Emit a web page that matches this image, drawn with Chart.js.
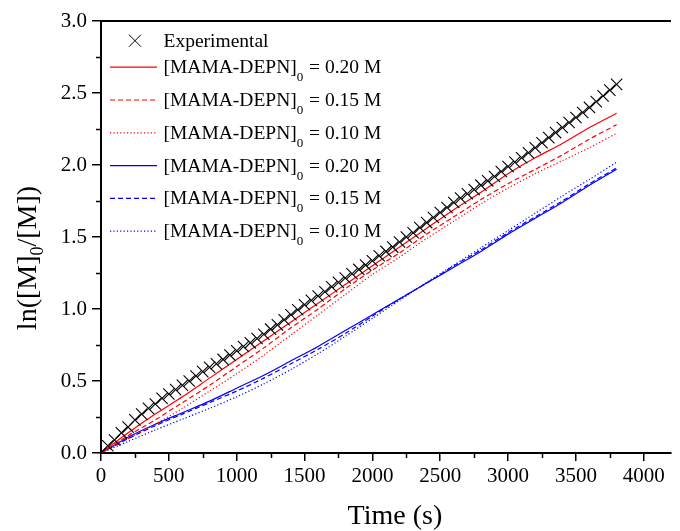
<!DOCTYPE html>
<html>
<head>
<meta charset="utf-8">
<script src="https://cdn.jsdelivr.net/npm/chart.js@4/dist/chart.umd.min.js"></script>
<style>
  html, body { margin: 0; padding: 0; background: #fff; }
  canvas { display: block; }
</style>
</head>
<body>
<canvas id="chart" width="680" height="531"></canvas>
<script>
// Measured conversion: ln([M]0/[M]) against time
const expTime = [0, 50, 100, 150, 200, 250, 300, 350, 400, 450,
  500, 550, 600, 650, 700, 750, 800, 850, 900, 950,
  1000, 1050, 1100, 1150, 1200, 1250, 1300, 1350, 1400, 1450,
  1500, 1550, 1600, 1650, 1700, 1750, 1800, 1850, 1900, 1950,
  2000, 2050, 2100, 2150, 2200, 2250, 2300, 2350, 2400, 2450,
  2500, 2550, 2600, 2650, 2700, 2750, 2800, 2850, 2900, 2950,
  3000, 3050, 3100, 3150, 3200, 3250, 3300, 3350, 3400, 3450,
  3500, 3550, 3600, 3650, 3700, 3750, 3800];
const expValue = [0, 0.05, 0.09, 0.14, 0.18, 0.23, 0.27, 0.31, 0.34, 0.38,
  0.41, 0.44, 0.47, 0.50, 0.535, 0.565, 0.595, 0.62, 0.65, 0.68,
  0.71, 0.74, 0.765, 0.795, 0.825, 0.86, 0.89, 0.925, 0.96, 0.995,
  1.03, 1.06, 1.09, 1.12, 1.155, 1.185, 1.215, 1.245, 1.275, 1.305,
  1.335, 1.37, 1.40, 1.43, 1.465, 1.50, 1.53, 1.565, 1.60, 1.635,
  1.67, 1.705, 1.74, 1.77, 1.80, 1.83, 1.86, 1.89, 1.92, 1.955,
  1.99, 2.02, 2.05, 2.085, 2.12, 2.155, 2.19, 2.225, 2.26, 2.295,
  2.33, 2.365, 2.40, 2.44, 2.48, 2.52, 2.56];

// Simulated curves
const simTime = [0, 200, 400, 600, 800, 1000, 1200, 1400, 1600, 1800,
  2000, 2200, 2400, 2600, 2800, 3000, 3200, 3400, 3600, 3800];
const redA = [0, 0.14, 0.27, 0.39, 0.52, 0.65, 0.78, 0.91, 1.04, 1.17,
  1.30, 1.43, 1.56, 1.69, 1.81, 1.94, 2.05, 2.15, 2.26, 2.36];
const redB = [0, 0.12, 0.23, 0.35, 0.47, 0.60, 0.73, 0.87, 1.00, 1.14,
  1.27, 1.39, 1.52, 1.64, 1.76, 1.87, 1.97, 2.07, 2.18, 2.28];
const redC = [0, 0.10, 0.20, 0.31, 0.43, 0.55, 0.68, 0.82, 0.96, 1.10,
  1.24, 1.36, 1.49, 1.61, 1.73, 1.84, 1.94, 2.03, 2.12, 2.22];
const blueA = [0, 0.11, 0.20, 0.28, 0.36, 0.45, 0.54, 0.64, 0.74, 0.85,
  0.96, 1.07, 1.18, 1.29, 1.40, 1.52, 1.63, 1.74, 1.86, 1.97];
const blueB = [0, 0.10, 0.19, 0.27, 0.35, 0.43, 0.52, 0.62, 0.72, 0.83,
  0.95, 1.07, 1.18, 1.30, 1.41, 1.53, 1.64, 1.75, 1.87, 1.98];
const blueC = [0, 0.08, 0.16, 0.235, 0.31, 0.39, 0.48, 0.58, 0.69, 0.81,
  0.935, 1.06, 1.185, 1.305, 1.425, 1.545, 1.665, 1.785, 1.90, 2.02];

const concLabels = ['0.20', '0.15', '0.10', '0.20', '0.15', '0.10'];

const xTicks = [0, 500, 1000, 1500, 2000, 2500, 3000, 3500, 4000];
const xMinor = [250, 750, 1250, 1750, 2250, 2750, 3250, 3750];
const yTicks = [0, 0.5, 1.0, 1.5, 2.0, 2.5, 3.0];
const yMinor = [0.25, 0.75, 1.25, 1.75, 2.25, 2.75];

const FONT = "'Liberation Serif', 'Times New Roman', serif";
const RED = '#ff0000';
const BLUE = '#0000ff';
const DASH = [5, 3];
const DOT = [1.2, 2.2];

const pairs = (xs, ys) => xs.map((x, i) => ({ x: x, y: ys[i] }));

function simSet(values, color, dash, conc) {
  return {
    label: '[MAMA-DEPN]0 = ' + conc + ' M',
    conc: conc,
    data: pairs(simTime, values),
    showLine: true,
    borderColor: color,
    backgroundColor: color,
    borderWidth: 1.2,
    borderDash: dash,
    pointRadius: 0,
    tension: 0.25,
    fill: false
  };
}

const datasets = [
  {
    label: 'Experimental',
    data: pairs(expTime, expValue),
    showLine: false,
    pointStyle: 'crossRot',
    pointRadius: 8,
    borderColor: '#000',
    backgroundColor: '#000',
    pointBorderWidth: 1.1,
    borderWidth: 1.1
  },
  simSet(redA, RED, [], concLabels[0]),
  simSet(redB, RED, DASH, concLabels[1]),
  simSet(redC, RED, DOT, concLabels[2]),
  simSet(blueA, BLUE, [], concLabels[3]),
  simSet(blueB, BLUE, DASH, concLabels[4]),
  simSet(blueC, BLUE, DOT, concLabels[5])
];

// Frame, minor ticks, axis titles and legend with subscripts
const decorations = {
  id: 'decorations',
  afterDraw(chart) {
    const ctx = chart.ctx;
    const a = chart.chartArea;
    const xs = chart.scales.x;
    const ys = chart.scales.y;
    ctx.save();
    ctx.strokeStyle = '#000';
    ctx.fillStyle = '#000';

    // top frame line
    ctx.lineWidth = 2;
    ctx.beginPath();
    ctx.moveTo(a.left - 1, a.top);
    ctx.lineTo(a.right, a.top);
    ctx.stroke();

    // minor ticks
    ctx.lineWidth = 1.5;
    xMinor.forEach(v => {
      const px = Math.round(xs.getPixelForValue(v)) + 0.5;
      ctx.beginPath();
      ctx.moveTo(px, a.bottom);
      ctx.lineTo(px, a.bottom + 5);
      ctx.stroke();
    });
    yMinor.forEach(v => {
      const py = Math.round(ys.getPixelForValue(v)) + 0.5;
      ctx.beginPath();
      ctx.moveTo(a.left, py);
      ctx.lineTo(a.left - 5, py);
      ctx.stroke();
    });

    // x axis title
    ctx.font = '28px ' + FONT;
    ctx.textAlign = 'center';
    ctx.textBaseline = 'alphabetic';
    ctx.fillText('Time (s)', (a.left + a.right) / 2 + 9, 524);

    // y axis title: ln([M]0/[M]) with subscript
    const big = '28px ' + FONT;
    const small = '18px ' + FONT;
    const parts = [
      { t: 'ln([M]', f: big, dy: 0 },
      { t: '0', f: small, dy: 7 },
      { t: '/[M])', f: big, dy: 0 }
    ];
    let total = 0;
    parts.forEach(p => { ctx.font = p.f; p.w = ctx.measureText(p.t).width; total += p.w; });
    ctx.translate(36, 258);
    ctx.rotate(-Math.PI / 2);
    ctx.textAlign = 'left';
    let cx = -total / 2;
    parts.forEach(p => { ctx.font = p.f; ctx.fillText(p.t, cx, p.dy); cx += p.w; });
    ctx.setTransform(1, 0, 0, 1, 0, 0);

    // legend
    const lx0 = 110, lx1 = 157, tx = 163.5;
    const rows = [40.7, 66.7, 99.5, 132.3, 165.1, 197.9, 230.7];
    const main = '19.5px ' + FONT;
    const sub = '13px ' + FONT;
    ctx.textAlign = 'left';
    chart.data.datasets.forEach((ds, i) => {
      const yy = rows[i];
      if (i === 0) {
        ctx.strokeStyle = '#000';
        ctx.lineWidth = 1;
        ctx.setLineDash([]);
        const r = 6;
        ctx.beginPath();
        ctx.moveTo(135 - r, yy - r); ctx.lineTo(135 + r, yy + r);
        ctx.moveTo(135 - r, yy + r); ctx.lineTo(135 + r, yy - r);
        ctx.stroke();
        ctx.font = main;
        ctx.fillText(ds.label, tx, yy + 6.5);
        return;
      }
      ctx.strokeStyle = ds.borderColor;
      ctx.lineWidth = ds.borderWidth;
      ctx.setLineDash(ds.borderDash);
      ctx.beginPath();
      ctx.moveTo(lx0, yy + 0.5);
      ctx.lineTo(lx1, yy + 0.5);
      ctx.stroke();
      ctx.setLineDash([]);
      let x = tx;
      const base = yy + 6.5;
      ctx.font = main;
      ctx.fillText('[MAMA-DEPN]', x, base);
      x += ctx.measureText('[MAMA-DEPN]').width;
      ctx.font = sub;
      ctx.fillText('0', x, base + 8);
      x += ctx.measureText('0').width + 1;
      ctx.font = main;
      ctx.fillText(' = ' + ds.conc + ' M', x, base);
    });
    ctx.restore();
  }
};

new Chart(document.getElementById('chart'), {
  type: 'scatter',
  data: { datasets: datasets },
  options: {
    responsive: false,
    animation: false,
    devicePixelRatio: 1,
    layout: { padding: { top: 21, left: 0, right: 0, bottom: 0 } },
    plugins: { legend: { display: false }, tooltip: { enabled: false } },
    scales: {
      x: {
        type: 'linear',
        min: 0,
        max: 4200,
        afterBuildTicks(s) { s.ticks = xTicks.map(v => ({ value: v })); },
        afterFit(s) { s.height = 78; },
        ticks: {
          font: { family: FONT, size: 21 },
          color: '#000',
          padding: 3,
          maxRotation: 0,
          autoSkip: false,
          callback: v => String(v)
        },
        grid: { drawOnChartArea: false, drawTicks: true, tickLength: 8, color: '#000', lineWidth: 1.5 },
        border: { display: true, color: '#000', width: 2 }
      },
      y: {
        type: 'linear',
        min: 0,
        max: 3,
        afterBuildTicks(s) { s.ticks = yTicks.map(v => ({ value: v })); },
        afterFit(s) { s.width = 101; },
        ticks: {
          font: { family: FONT, size: 21 },
          color: '#000',
          padding: 5,
          callback: v => Number(v).toFixed(1)
        },
        grid: { drawOnChartArea: false, drawTicks: true, tickLength: 9, color: '#000', lineWidth: 1.5 },
        border: { display: true, color: '#000', width: 2 }
      }
    }
  },
  plugins: [decorations]
});
</script>
</body>
</html>
